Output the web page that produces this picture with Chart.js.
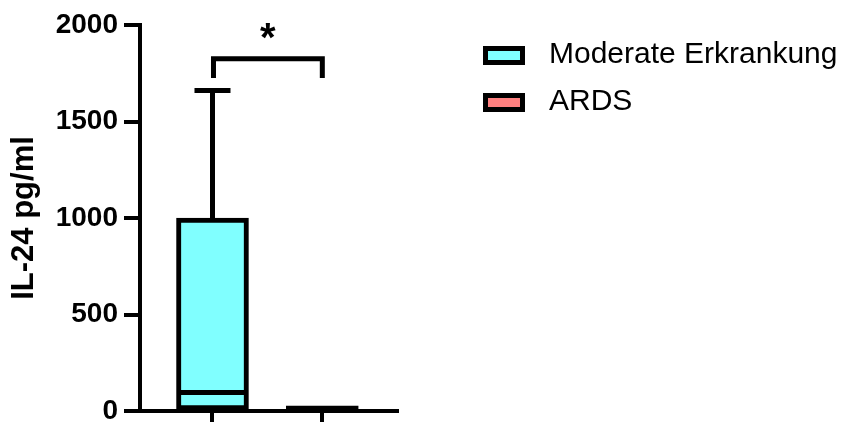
<!DOCTYPE html>
<html lang="de">
<head>
    <meta charset="UTF-8">
    <title>IL-24</title>
    <script src="https://cdn.jsdelivr.net/npm/chart.js"></script>
    <style>
        body { margin: 0; background: #fff; }
        .chart-box { width: 850px; height: 422px; position: relative; }
    </style>
</head>
<body>
    <div class="chart-box">
        <canvas id="il24Chart"></canvas>
    </div>

    <script>
        // Box plot values (pg/ml)
        const groups = ['Moderate Erkrankung', 'ARDS'];
        const mins = [0, 0];
        const q1 = [5, 0];
        const medians = [96, 12];
        const q3 = [1000, 27];
        const maxs = [1660, 27];
        const yTicks = [0, 500, 1000, 1500, 2000];
        const boxColors = ['#80ffff', '#ff8080'];
        const sigLabel = '*';

        const FONT = "'Liberation Sans', Arial, Helvetica, sans-serif";

        // whiskers, caps and median lines
        const boxExtras = {
            id: 'boxExtras',
            afterDatasetsDraw(chart) {
                const { ctx, scales: { x, y } } = chart;
                ctx.save();
                ctx.strokeStyle = '#000';
                ctx.lineWidth = 5;
                ctx.lineCap = 'butt';
                groups.forEach((g, i) => {
                    const cx = x.getPixelForValue(i);
                    // upper whisker (only when it sticks out of the box)
                    if (maxs[i] > q3[i]) {
                        ctx.beginPath();
                        ctx.moveTo(cx, y.getPixelForValue(q3[i]));
                        ctx.lineTo(cx, y.getPixelForValue(maxs[i]));
                        ctx.stroke();
                        ctx.beginPath();
                        ctx.moveTo(cx - 18, y.getPixelForValue(maxs[i]));
                        ctx.lineTo(cx + 18, y.getPixelForValue(maxs[i]));
                        ctx.stroke();
                    }
                    // lower whisker
                    if (mins[i] < q1[i]) {
                        ctx.beginPath();
                        ctx.moveTo(cx, y.getPixelForValue(q1[i]));
                        ctx.lineTo(cx, y.getPixelForValue(mins[i]));
                        ctx.stroke();
                    }
                    // median
                    ctx.beginPath();
                    ctx.moveTo(cx - 34, y.getPixelForValue(medians[i]));
                    ctx.lineTo(cx + 34, y.getPixelForValue(medians[i]));
                    ctx.stroke();
                });
                ctx.restore();
            }
        };

        // significance bracket + legend
        const decorations = {
            id: 'decorations',
            afterDraw(chart) {
                const { ctx, scales: { x, y } } = chart;
                const x0 = x.getPixelForValue(0) + 1;
                const x1 = x.getPixelForValue(1);
                const yTop = y.getPixelForValue(1825);
                const yLeg = y.getPixelForValue(1725);
                ctx.save();
                ctx.strokeStyle = '#000';
                ctx.lineWidth = 5;
                ctx.lineJoin = 'miter';
                ctx.beginPath();
                ctx.moveTo(x0, yLeg);
                ctx.lineTo(x0, yTop);
                ctx.lineTo(x1, yTop);
                ctx.lineTo(x1, yLeg);
                ctx.stroke();

                // asterisk centred above the bracket
                ctx.fillStyle = '#000';
                ctx.font = 'bold 40px ' + FONT;
                const m = ctx.measureText(sigLabel);
                const w = m.actualBoundingBoxLeft + m.actualBoundingBoxRight;
                const h = m.actualBoundingBoxAscent + m.actualBoundingBoxDescent;
                ctx.textBaseline = 'alphabetic';
                ctx.fillText(sigLabel, (x0 + x1) / 2 - w / 2 + m.actualBoundingBoxLeft,
                    31 - h / 2 + m.actualBoundingBoxAscent);

                // legend
                ctx.font = '30px ' + FONT;
                ctx.textBaseline = 'middle';
                groups.forEach((g, i) => {
                    const by = 46 + i * 47;
                    ctx.fillStyle = '#000';
                    ctx.fillRect(483, by, 42, 19);
                    ctx.fillStyle = boxColors[i];
                    ctx.fillRect(488, by + 5, 32, 9);
                    ctx.fillStyle = '#000';
                    ctx.fillText(g, 549, by + 9);
                });
                ctx.restore();
            }
        };

        const ctx = document.getElementById('il24Chart').getContext('2d');
        new Chart(ctx, {
            type: 'bar',
            data: {
                datasets: [{
                    label: 'IL-24',
                    data: groups.map((g, i) => ({ x: i, y: [q1[i], q3[i]] })),
                    backgroundColor: boxColors,
                    borderColor: '#000',
                    borderWidth: 5,
                    borderSkipped: false,
                    barThickness: 72
                }]
            },
            options: {
                responsive: true,
                maintainAspectRatio: false,
                animation: false,
                layout: { padding: { top: 25, right: 453, bottom: 0, left: 0 } },
                plugins: {
                    legend: { display: false },
                    tooltip: { enabled: false }
                },
                scales: {
                    x: {
                        type: 'linear',
                        offset: false,
                        min: -0.66,
                        max: 1.68,
                        afterBuildTicks: (scale) => { scale.ticks = [{ value: 0 }, { value: 1 }]; },
                        afterFit: (scale) => {
                            scale.height = 11;
                            scale.paddingLeft = 0;
                            scale.paddingRight = 0;
                        },
                        ticks: { callback: () => '', padding: 0 },
                        grid: { offset: false, drawOnChartArea: false, tickLength: 11, lineWidth: 4, color: '#000' },
                        border: { color: '#000', width: 4 }
                    },
                    y: {
                        min: 0,
                        max: 2000,
                        afterBuildTicks: (scale) => { scale.ticks = yTicks.map(v => ({ value: v })); },
                        afterFit: (scale) => {
                            scale.width = 140;
                            scale.paddingTop = 0;
                            scale.paddingBottom = 0;
                        },
                        ticks: {
                            color: '#000',
                            padding: 6,
                            callback: (v) => String(v),
                            font: { family: FONT, size: 28, weight: 'bold' }
                        },
                        grid: { drawOnChartArea: false, tickLength: 16, lineWidth: 4, color: '#000' },
                        border: { color: '#000', width: 4 },
                        title: {
                            display: true,
                            text: 'IL-24 pg/ml',
                            color: '#000',
                            padding: { top: 6, bottom: 0 },
                            font: { family: FONT, size: 31, weight: 'bold' }
                        }
                    }
                }
            },
            plugins: [boxExtras, decorations]
        });
    </script>
</body>
</html>
